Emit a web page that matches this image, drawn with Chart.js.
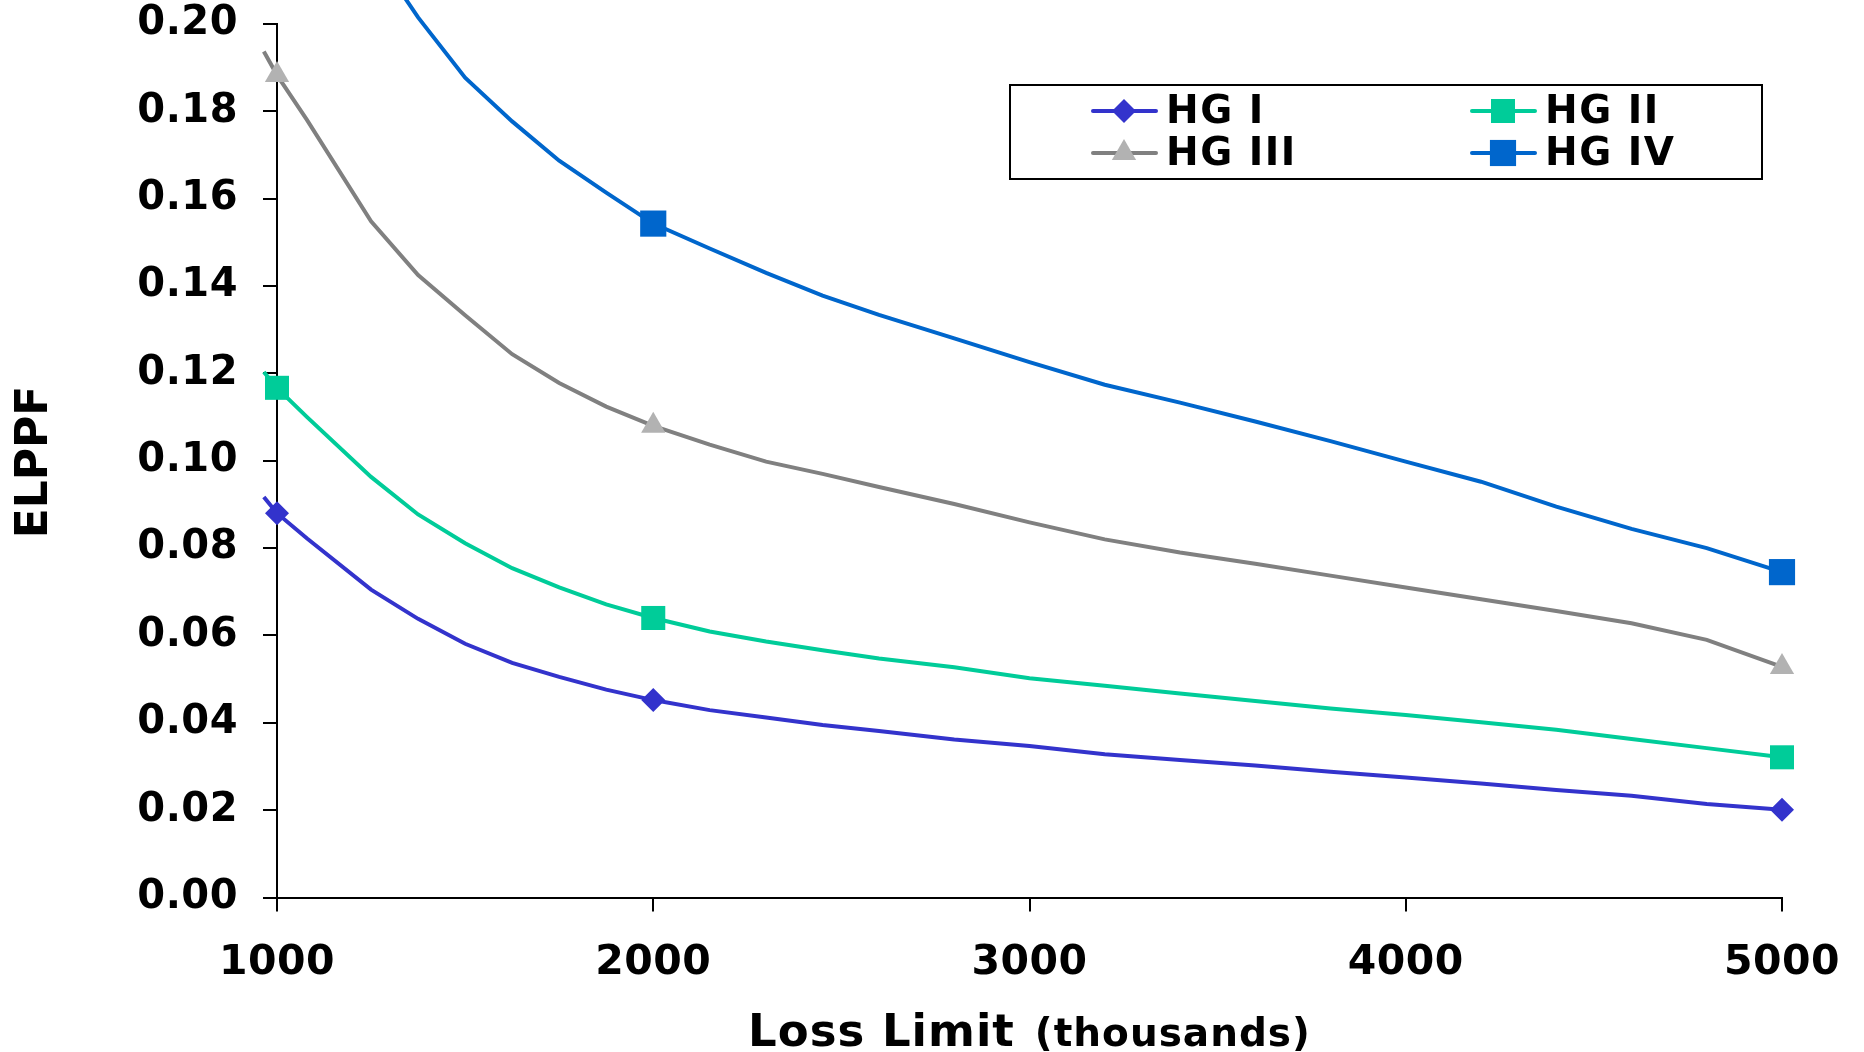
<!DOCTYPE html>
<html>
<head>
<title>ELPPF by Loss Limit</title>
<style>
  body {
    background-color: white;
    margin: 0;
    padding: 0;
  }
  .chart-box {
    width: 1864px;
    height: 1052px;
  }
</style>
<script src="https://cdn.jsdelivr.net/npm/chart.js"></script>
</head>
<body>
<div class="chart-box"><canvas id="elppfChart"></canvas></div>
<script>
// loss limits (thousands) where each curve is sampled
const lossLimits = [965, 1000, 1080, 1250, 1375, 1500, 1625, 1750, 1875, 2000, 2150, 2300, 2450, 2600,
  2800, 3000, 3200, 3400, 3600, 3800, 4000, 4200, 4400, 4600, 4800, 5000];
// limits that get a marker
const markedLimits = [1000, 2000, 5000];

const hgI = [0.0917, 0.088, 0.0822, 0.0705, 0.0638, 0.0581, 0.0537, 0.0505, 0.0476, 0.0452, 0.0429, 0.0412,
  0.0395, 0.0381, 0.0362, 0.0347, 0.0328, 0.0315, 0.0302, 0.0288, 0.0275, 0.0261, 0.0246, 0.0233, 0.0214, 0.0201];
const hgII = [0.1203, 0.1167, 0.11, 0.0963, 0.0877, 0.0811, 0.0754, 0.071, 0.0671, 0.064, 0.0609, 0.0586,
  0.0566, 0.0547, 0.0527, 0.0502, 0.0485, 0.0467, 0.045, 0.0433, 0.0418, 0.0401, 0.0384, 0.0363, 0.0342, 0.0321];
const hgIII = [0.1937, 0.1883, 0.178, 0.1548, 0.1425, 0.1333, 0.1244, 0.1178, 0.1124, 0.108, 0.1037, 0.0998,
  0.097, 0.094, 0.0901, 0.0859, 0.082, 0.079, 0.0764, 0.0737, 0.071, 0.0683, 0.0656, 0.0628, 0.059, 0.0528];
const hgIV = [null, null, null, 0.2175, 0.2015, 0.1877, 0.1777, 0.1687, 0.1614, 0.1543, 0.1486, 0.143,
  0.1378, 0.1334, 0.128, 0.1226, 0.1174, 0.1133, 0.109, 0.1045, 0.0998, 0.0952, 0.0895, 0.0844, 0.08, 0.0745];

const seriesNames = ["HG I", "HG II", "HG III", "HG IV"];
const xTickValues = [1000, 2000, 3000, 4000, 5000];
const yTickValues = [0, 0.02, 0.04, 0.06, 0.08, 0.1, 0.12, 0.14, 0.16, 0.18, 0.2];
const yTitle = "ELPPF";
const xTitle = "Loss Limit";
const xTitleUnit = "(thousands)";

const FONT = '"DejaVu Sans", Verdana, sans-serif';

function toPoints(values) {
  return lossLimits
    .map((x, i) => ({ x: x, y: values[i] }))
    .filter(p => p.y !== null);
}

function makeDataset(label, values, lineColor, markColor, style, radius) {
  return {
    label: label,
    data: toPoints(values),
    borderColor: lineColor,
    borderWidth: 4,
    backgroundColor: markColor,
    tension: 0,
    clip: false,
    pointStyle: style,
    pointRadius: ctx => markedLimits.includes(ctx.raw.x) ? radius : 0,
    pointHoverRadius: ctx => markedLimits.includes(ctx.raw.x) ? radius : 0,
    pointBackgroundColor: markColor,
    pointBorderWidth: 0,
    markRadius: radius
  };
}

const datasets = [
  makeDataset(seriesNames[0], hgI, "#3333CC", "#3333CC", "rectRot", 12),
  makeDataset(seriesNames[1], hgII, "#00CC99", "#00CC99", "rect", 17),
  makeDataset(seriesNames[2], hgIII, "#808080", "#B2B2B2", "triangle", 14),
  makeDataset(seriesNames[3], hgIV, "#0066CC", "#0066CC", "rect", 18.5)
];

// slightly wider tracking on the tick labels
const textSpacing = {
  id: "textSpacing",
  beforeLayout(chart) { chart.ctx.letterSpacing = "0.5px"; },
  beforeDraw(chart) { chart.ctx.letterSpacing = "0.5px"; }
};

// axis titles and the boxed legend
const captions = {
  id: "captions",
  afterDraw(chart) {
    const ctx = chart.ctx;
    const area = chart.chartArea;

    ctx.save();
    ctx.letterSpacing = "0px";
    ctx.fillStyle = "#000";
    ctx.translate(47, 462);
    ctx.rotate(-Math.PI / 2);
    ctx.font = "bold 44px " + FONT;
    ctx.textAlign = "center";
    ctx.textBaseline = "alphabetic";
    ctx.fillText(yTitle, 0, 0);
    ctx.restore();

    ctx.save();
    ctx.letterSpacing = "1px";
    ctx.fillStyle = "#000";
    ctx.textBaseline = "alphabetic";
    ctx.textAlign = "left";
    const big = "bold 45px " + FONT;
    const small = "bold 39px " + FONT;
    ctx.font = big;
    const w1 = ctx.measureText(xTitle).width;
    ctx.font = small;
    const w2 = ctx.measureText(xTitleUnit).width;
    const gap = 20;
    let x0 = (area.left + area.right) / 2 - (w1 + gap + w2) / 2;
    ctx.font = big;
    ctx.fillText(xTitle, x0, 1046);
    ctx.font = small;
    ctx.fillText(xTitleUnit, x0 + w1 + gap, 1046);
    ctx.restore();

    // legend
    ctx.save();
    ctx.strokeStyle = "#000";
    ctx.lineWidth = 2;
    ctx.strokeRect(1010, 85, 752, 94);
    const cols = [1093, 1472];
    const rows = [111, 153];
    ctx.font = "bold 39px " + FONT;
    ctx.letterSpacing = "1.5px";
    ctx.textBaseline = "middle";
    ctx.textAlign = "left";
    chart.data.datasets.forEach((ds, i) => {
      const lx = cols[i % 2];
      const ly = rows[Math.floor(i / 2)];
      ctx.strokeStyle = ds.borderColor;
      ctx.lineWidth = 4;
      ctx.lineCap = "round";
      ctx.beginPath();
      ctx.moveTo(lx, ly);
      ctx.lineTo(lx + 63, ly);
      ctx.stroke();
      ctx.fillStyle = ds.backgroundColor;
      Chart.helpers.drawPoint(ctx, {
        pointStyle: ds.pointStyle,
        radius: ds.markRadius,
        rotation: 0,
        borderWidth: 0
      }, lx + 31, ly);
      ctx.fillStyle = "#000";
      ctx.fillText(ds.label, lx + 73, ly + 2);
    });
    ctx.restore();
  }
};

new Chart(document.getElementById("elppfChart"), {
  type: "line",
  data: { datasets: datasets },
  options: {
    responsive: true,
    maintainAspectRatio: false,
    animation: false,
    events: [],
    layout: { padding: { top: 24, right: 82, bottom: 0, left: 0 } },
    plugins: {
      legend: { display: false },
      tooltip: { enabled: false }
    },
    scales: {
      x: {
        type: "linear",
        min: 1000,
        max: 5000,
        afterBuildTicks: scale => { scale.ticks = xTickValues.map(v => ({ value: v })); },
        afterFit: scale => {
          scale.height = 154.5;
          scale.paddingLeft = 0;
          scale.paddingRight = 0;
        },
        grid: {
          drawOnChartArea: false,
          color: "#000",
          lineWidth: 2,
          tickLength: 14
        },
        border: { color: "#000", width: 2 },
        ticks: {
          color: "#000",
          padding: 27,
          maxRotation: 0,
          font: { family: FONT, size: 41, weight: "bold" },
          callback: v => String(v)
        }
      },
      y: {
        min: 0,
        max: 0.2,
        afterBuildTicks: scale => { scale.ticks = yTickValues.map(v => ({ value: v })); },
        afterFit: scale => {
          scale.width = 277;
          scale.paddingTop = 0;
          scale.paddingBottom = 0;
        },
        grid: {
          drawOnChartArea: false,
          color: "#000",
          lineWidth: 2,
          tickLength: 14
        },
        border: { color: "#000", width: 2 },
        ticks: {
          color: "#000",
          padding: 25,
          font: { family: FONT, size: 40, weight: "bold" },
          callback: v => v.toFixed(2)
        }
      }
    }
  },
  plugins: [textSpacing, captions]
});
</script>
</body>
</html>
